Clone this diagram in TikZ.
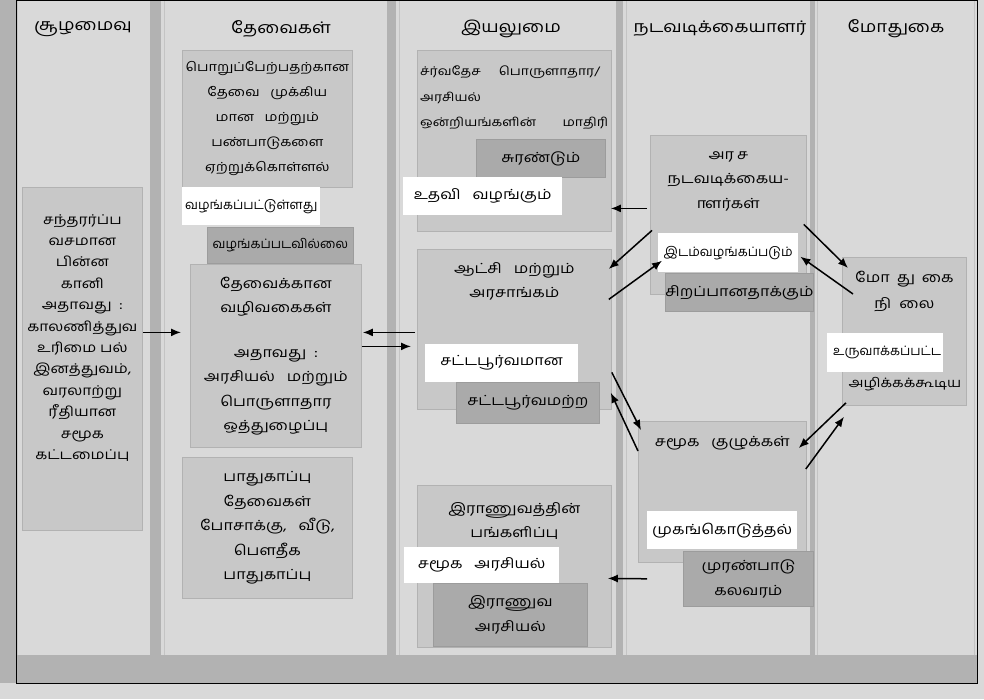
\documentclass[tikz,border=0pt]{standalone}
\usepackage{fontspec}
\setmainfont[Script=Tamil,FakeStretch=1.16]{Hind Madurai}
\newfontfamily\plainta[Script=Tamil]{Hind Madurai}
\usetikzlibrary{positioning,arrows.meta}
\definecolor{panelgray}{HTML}{D9D9D9}
\definecolor{panelline}{HTML}{C4C4C4}
\definecolor{sepgray}{HTML}{B2B2B2}
\definecolor{boxgray}{HTML}{C8C8C8}
\definecolor{boxline}{HTML}{B2B2B2}
\definecolor{shadegray}{HTML}{AAAAAA}
\definecolor{shadeline}{HTML}{9C9C9C}
\newcommand\bodyfont{\fontsize{14}{24.5}\selectfont}
\newcommand\ctxfont{\fontsize{13.5}{21.4}\selectfont}
\newcommand\tightfont{\plainta\fontsize{13}{24.5}\selectfont}
\newcommand\headfont{\fontsize{16}{18}\selectfont}
\newcommand\aasign{{\XeTeXglyph\XeTeXcharglyph"0BBE}}

\begin{document}
\begin{tikzpicture}[x=1pt,y=-1pt,
	panel/.style={fill=panelgray,draw=panelline,line width=.6pt},
	boxg/.style={anchor=north west,inner sep=0pt,fill=boxgray,draw=boxline,line width=.8pt,align=center,font=\bodyfont},
	boxd/.style={boxg,fill=shadegray,draw=shadeline},
	tag/.style={anchor=north west,inner sep=0pt,fill=white,align=center,font=\bodyfont},
	txt/.style={inner sep=0pt,align=center,font=\bodyfont},
	head/.style={inner sep=0pt,font=\headfont},
	arr/.style={-{Latex[length=10pt,width=8pt]},line width=1.5pt}]
	\useasboundingbox (0,0) rectangle (984,699);
	% columns
	\fill[panelgray] (0,0) rectangle (984,699);
	\fill[sepgray] (0,0) rectangle (16,683);
	\foreach \xa/\xb in {17/150,164/387,399/616,626/810,817/974}
		\filldraw[panel] (\xa,0) rectangle (\xb,655);
	\foreach \xa/\xb in {150/161,387/396,616/623,810/815}
		\fill[sepgray] (\xa,0) rectangle (\xb,655);
	\fill[sepgray] (17,655) rectangle (977,683);
	\draw[line width=.8pt] (16,0) rectangle (977,683);
	\node[head] (hctx) at (83,29) {சூழமைவு};
	\node[head] (hneed) at (281,29) {தேவைகள்};
	\node[head] (hcap) at (511,29) {இயலுமை};
	\node[head] (hact) at (720,29) {நடவடிக்கையாளர்};
	\node[head] (hconf) at (896,29) {மோதுகை};

	% boxes
	\node[boxg,minimum width=120,minimum height=343] (ctx) at (22,187) {};
	\node[txt,font=\ctxfont,below=27pt of ctx.north] (ctxtext) {சந்தரர்ப்ப\\வசமான\\பின்ன\\கானி\\அதாவது~~:\\காலணித்துவ\\உரிமை பல்\\இனத்துவம்,\\வரலாற்று\\ரீதியான\\சமூக\\கட்டமைப்பு};
	\node[boxg,font=\fontsize{12.5}{25}\selectfont,minimum width=170,minimum height=137] (needs) at (182,50) {பொறுப்பேற்பதற்கான\\தேவை~~ முக்கிய\\மான~~ மற்றும்\\பண்பாடுகளை\\ஏற்றுக்கொள்ளல்};
	\node[tag,font=\tightfont,minimum width=138,minimum height=38] (given) at (182,187) {வழங்கப்பட்டுள்ளது};
	\node[boxd,font=\tightfont,minimum width=146,minimum height=36] (notgiven) at (207,227) {வழங்கப்படவில்லை};
	\node[boxg,minimum width=171,minimum height=183] (ways) at (190,264) {தேவைக்கான\\வழிவகைகள்\\[20pt]அதாவது~~:\\அரசியல்~~ மற்றும்\\பொருளாதார\\ஒத்துழைப்பு};
	\node[boxg,minimum width=170,minimum height=141] (safety) at (182,457) {பாதுகாப்பு\\தேவைகள்\\போசாக்கு,~~ வீடு,\\பௌதீக\\பாதுகாப்பு};

	\node[boxg,minimum width=194,minimum height=181] (intl) at (417,50) {};
	\node[txt,align=left,text width=188,anchor=north west,font=\fontsize{12}{25.5}\selectfont] (intltext) at ([shift={(3,16)}]intl.north west) {ச்ர்வதேச\hspace{18pt}பொருளாதார/\\அரசியல்\\ஒன்றியங்களின்\hfill மாதிரி};
	\node[boxd,minimum width=129,minimum height=38] (exploit) at (476,139) {சுரண்டும்};
	\node[tag,minimum width=159,minimum height=38] (helps) at (403,177) {உதவி~~ வழங்கும்};
	\node[boxg,minimum width=194,minimum height=160] (gov) at (417,249) {};
	\node[txt,below=13pt of gov.north] (govtext) {ஆட்சி~~ மற்றும்\\அரசாங்கம்};
	\node[tag,minimum width=153,minimum height=38] (legit) at (425,344) {சட்டபூர்வமான};
	\node[boxd,minimum width=143,minimum height=41] (illegit) at (456,382) {சட்டபூர்வமற்ற};
	\node[boxg,minimum width=194,minimum height=162] (mil) at (417,485) {};
	\node[txt,below=17pt of mil.north] (miltext) {இராணுவத்தின்\\பங்களிப்பு};
	\node[tag,minimum width=155,minimum height=36] (socpol) at (404,547) {சமூக~~ அரசியல்};
	\node[boxd,minimum width=154,minimum height=63] (milpol) at (433,583) {இராணுவ\\அரசியல்};

	\node[boxg,minimum width=156,minimum height=159] (stateact) at (650,135) {};
	\node[txt,below=16pt of stateact.north] (statetext) {அர\hspace{3pt}ச\\நடவடிக்கைய-\\\aasign ளர்கள்};
	\node[tag,font=\tightfont,minimum width=140,minimum height=39] (place) at (658,233) {இடம்வழங்கப்படும்};
	\node[boxd,minimum width=147,minimum height=38] (enhance) at (665,273) {சிறப்பானதாக்கும்};
	\node[boxg,minimum width=168,minimum height=141] (groups) at (638,421) {};
	\node[txt,below=15pt of groups.north] (groupstext) {சமூக~~ குழுக்கள்};
	\node[tag,minimum width=150,minimum height=38] (face) at (647,511) {முகங்கொடுத்தல்};
	\node[boxd,minimum width=130,minimum height=55] (riot) at (683,551) {முரண்பாடு\\கலவரம்};

	\node[boxg,minimum width=124,minimum height=148] (confl) at (842,257) {};
	\node[txt,font=\fontsize{14}{26}\selectfont,below=14pt of confl.north] (confltext) {மோ\hspace{7pt}து\hspace{7pt}கை\\நி\hspace{8pt}லை};
	\node[txt,font=\fontsize{13}{24.5}\selectfont] (destroy) at (905,384) {அழிக்கக்கூடிய};
	\node[tag,minimum width=116,minimum height=39] (created) at (827,333) {};
	\node[txt,font=\tightfont,anchor=west] (createdtext) at ([xshift=6pt]created.west) {உருவாக்கப்பட்ட};

	% arrows
	\draw[arr] ([shift={(0,-26.5)}]ctx.east) -- ([shift={(-9,-23.5)}]ways.west);
	\draw[arr] ([shift={(-2,3)}]gov.west) -- ([shift={(1,-23.5)}]ways.east);
	\draw[arr] ([shift={(0,-9.5)}]ways.east) -- ([shift={(-6,17)}]gov.west);
	\draw[arr] ([shift={(-3,-6.5)}]stateact.west) -- ([shift={(-1,67.5)}]intl.east);
	\draw[arr] ([shift={(2,15.5)}]stateact.west) -- ([shift={(-3,20)}]gov.north east);
	\draw[arr] ([shift={(-3,-30)}]gov.east) -- ([shift={(4,8)}]place.west);
	\draw[arr] ([shift={(-3,9.5)}]stateact.east) -- ([shift={(6,11)}]confl.north west);
	\draw[arr] ([shift={(11,37)}]confl.north west) -- ([shift={(2,4)}]place.east);
	\draw[arr] ([shift={(0,43)}]gov.east) -- ([shift={(3,9)}]groups.north west);
	\draw[arr] ([shift={(0,30)}]groups.north west) -- ([shift={(-1,-17)}]gov.south east);
	\draw[arr] ([shift={(4,-3)}]confl.south west) -- ([shift={(-8,27)}]groups.north east);
	\draw[arr] ([shift={(-1,48)}]groups.north east) -- ([shift={(2,11)}]confl.south west);
	\draw[arr] ([shift={(9,16)}]groups.south west) -- ([shift={(-4,12)}]mil.east);
\end{tikzpicture}
\end{document}
